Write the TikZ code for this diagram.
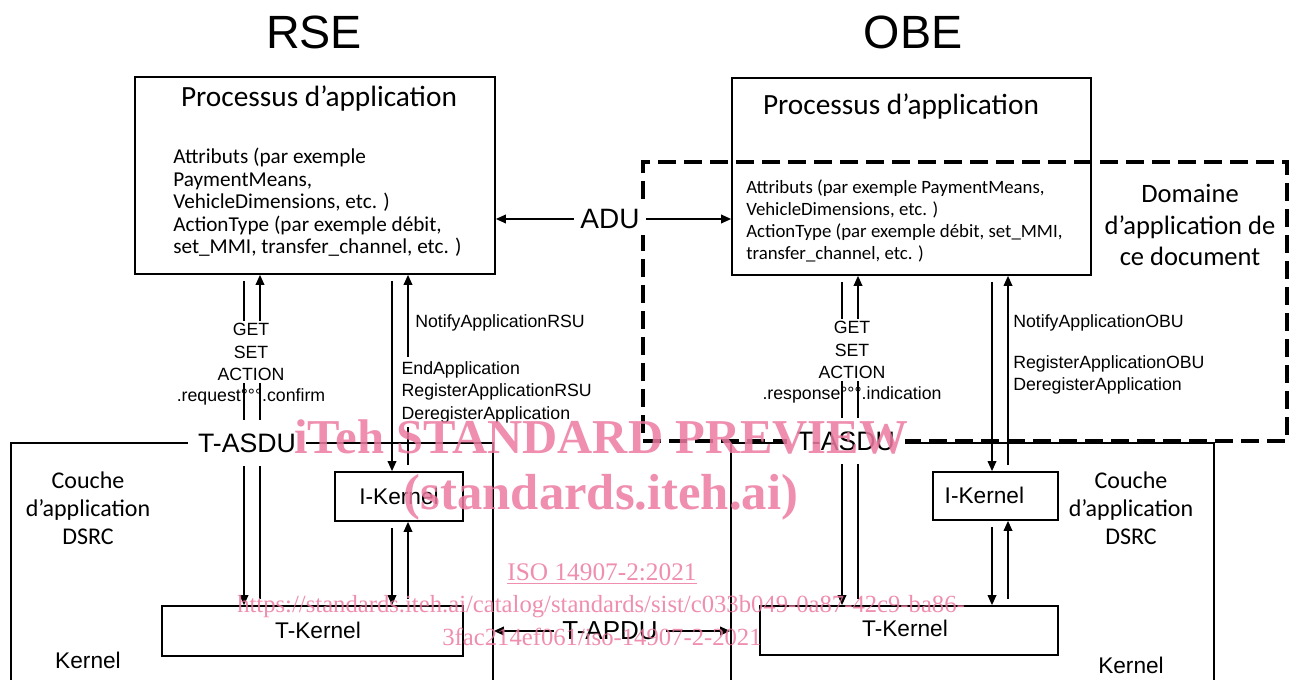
\documentclass[tikz,border=0pt]{standalone}
\usepackage{fontspec}
\setmainfont{Liberation Sans}
\newfontfamily\carlfont{Carlito}
\newfontfamily\wmfont{Liberation Serif}
\usetikzlibrary{arrows.meta,fit}
\definecolor{wmpink}{RGB}{236,122,160}
\begin{document}
\begin{tikzpicture}[x=0.75pt,y=-0.75pt,
  box/.style={draw, line width=1.3pt, inner sep=0pt},
  dombox/.style={draw, line width=2.3pt, dash pattern=on 13.5pt off 6pt, inner sep=0pt},
  arr/.style={line width=1.1pt, -{Triangle[length=7.5pt,width=6.5pt]}, shorten <=4.5pt},
  harr/.style={line width=1.1pt, -{Triangle[length=7.5pt,width=6.5pt]}},
  head/.style={font=\fontsize{35}{40}\selectfont},
  ptitle/.style={font=\carlfont\fontsize{22}{26}\selectfont},
  lbl/.style={font=\fontsize{13.3}{16.9}\selectfont, inner sep=0pt},
  wl/.style={fill=white, inner xsep=7.5pt, inner ysep=10.5pt},
  kern/.style={font=\fontsize{17}{20}\selectfont},
  couche/.style={font=\carlfont\fontsize{18}{21}\selectfont, align=center},
  wm/.style={text=wmpink, opacity=0.85}
]
\useasboundingbox (0,0) rectangle (1296,680);
% headers
\node[head] (rse) at (314,32) {RSE};
\node[head] (obe) at (913,32) {OBE};
% boxes
\node[box, fit={(135,77)(495,274)}] (pl) {};
\node[box, fit={(732,78)(1091,275)}] (po) {};
\node[box, fit={(11,443)(493,700)}] (cl) {};
\node[box, fit={(731,443)(1214,700)}] (cr) {};
\node[box, fit={(335,472)(463,521)}] (ikl) {};
\node[box, fit={(162,606)(463,656)}] (tkl) {};
\node[box, fit={(933,472)(1058,520)}] (ikr) {};
\node[box, fit={(760,606)(1058,655)}] (tkr) {};
% x positions of the vertical connectors
\coordinate (xa) at (244,0);
\coordinate (xb) at (260,0);
\coordinate (xc) at (392,0);
\coordinate (xd) at (408,0);
\coordinate (xe) at (842,0);
\coordinate (xf) at (858,0);
\coordinate (xg) at (992,0);
\coordinate (xh) at (1008,0);
% left vertical connectors
\draw[arr] (xa|-pl.south) -- (xa|-tkl.north);
\draw[arr] (xb|-tkl.north) -- (xb|-pl.south);
\draw[arr] (xc|-pl.south) -- (xc|-ikl.north);
\draw[arr] (xd|-ikl.north) -- (xd|-pl.south);
\draw[arr] (xc|-ikl.south) -- (xc|-tkl.north);
\draw[arr] (xd|-tkl.north) -- (xd|-ikl.south);
% right vertical connectors
\draw[arr] (xe|-po.south) -- (xe|-tkr.north);
\draw[arr] (xf|-tkr.north) -- (xf|-po.south);
\draw[arr] (xg|-po.south) -- (xg|-ikr.north);
\draw[arr] (xh|-ikr.north) -- (xh|-po.south);
\draw[arr] (xg|-ikr.south) -- (xg|-tkr.north);
\draw[arr] (xh|-tkr.north) -- (xh|-ikr.south);
% scope box
\node[dombox, fit={(643,162)(1287,441)}] (dom) {};
% box contents
\node[ptitle] (plt) at (319,99) {Processus d’application};
\node[ptitle] (pot) at (901,107) {Processus d’application};
\node[font=\carlfont\fontsize{15.9}{16.9}\selectfont, align=left, anchor=north west, inner sep=0pt] (plb) at (173,148)
  {Attributs (par exemple\\PaymentMeans,\\VehicleDimensions, etc. )\\ActionType (par exemple débit,\\set\_MMI, transfer\_channel, etc. )};
\node[font=\carlfont\fontsize{14.1}{16.5}\selectfont, align=left, anchor=north west, inner sep=0pt] (pob) at (746,179)
  {Attributs (par exemple PaymentMeans,\\VehicleDimensions, etc. )\\ActionType (par exemple débit, set\_MMI,\\transfer\_channel, etc. )};
\node[font=\carlfont\fontsize{19.9}{23.6}\selectfont, align=center] (domt) at (1190,225) {Domaine\\d’application de\\ce document};
% ADU and T-APDU
\node[font=\fontsize{21}{24}\selectfont, fill=white, inner xsep=5pt, inner ysep=5pt] (adu) at (610,219) {ADU};
\draw[harr] (adu.west) -- (adu.west -| pl.east);
\draw[harr] (adu.east) -- (adu.east -| po.west);
\node[font=\fontsize{19.5}{24}\selectfont, fill=white, inner xsep=6pt, inner ysep=3pt] (tapdu) at (610,631) {T-APDU};
\draw[harr] (tapdu.west) -- (tapdu.west -| cl.east);
\draw[harr] (tapdu.east) -- (tapdu.east -| cr.west);
% labels on the left connectors
\node[lbl, fill=white, align=center, inner ysep=2pt] (gl) at (251,352) {GET\\SET\\ACTION};
\node[lbl] (rql) at (251,397) {.request°°°.confirm};
\node[lbl, anchor=west] (nal) at (415,323) {NotifyApplicationRSU};
\node[lbl, fill=white, align=left, anchor=west, inner xsep=1pt, inner ysep=3pt] (eal) at (400,392) {EndApplication\\RegisterApplicationRSU\\DeregisterApplication};
% labels on the right connectors
\node[lbl, fill=white, align=center, inner ysep=2pt] (gr) at (852,350) {GET\\SET\\ACTION};
\node[lbl] (rsr) at (852,395) {.response°°°.indication};
\node[lbl, anchor=west] (nar) at (1013,323) {NotifyApplicationOBU};
\node[lbl, align=left, anchor=west] (rar) at (1013,375) {RegisterApplicationOBU\\DeregisterApplication};
% T-ASDU labels
\node[font=\fontsize{20}{24}\selectfont, wl] (tal) at (247,443) {T-ASDU};
\node[font=\fontsize{20}{24}\selectfont, wl] (tar) at (846,441) {T-ASDU};
% layer texts
\node[couche] (cll) at (88,508) {Couche\\d’application\\DSRC};
\node[couche] (clr) at (1131,508) {Couche\\d’application\\DSRC};
\node[kern] (kl) at (88,660) {Kernel};
\node[kern] (kr) at (1131,665) {Kernel};
\node[kern] (ikltx) at (ikl.center) {I-Kernel};
\node[kern, anchor=west] (ikrtx) at (940,495) {I-Kernel};
\node[kern] (tkltx) at (318,630) {T-Kernel};
\node[kern] (tkrtx) at (905,628) {T-Kernel};
% watermark
\node[wm, font=\wmfont\bfseries\fontsize{36.5}{40}\selectfont] (wm1) at (601,437) {iTeh STANDARD PREVIEW};
\node[wm, font=\wmfont\bfseries\fontsize{38}{42}\selectfont] (wm2) at (601,497) {(standards.iteh.ai)};
\node[wm, font=\wmfont\fontsize{19}{22}\selectfont] (wm3) at (602,574) {\underline{ISO 14907-2:2021}};
\node[wm, font=\wmfont\fontsize{18.5}{22}\selectfont] (wm4) at (601,607) {https://standards.iteh.ai/catalog/standards/sist/c033b049-0a87-42c9-ba86-};
\node[wm, font=\wmfont\fontsize{18.5}{22}\selectfont] (wm5) at (602,637) {3fac214ef061/iso-14907-2-2021};
\end{tikzpicture}
\end{document}
